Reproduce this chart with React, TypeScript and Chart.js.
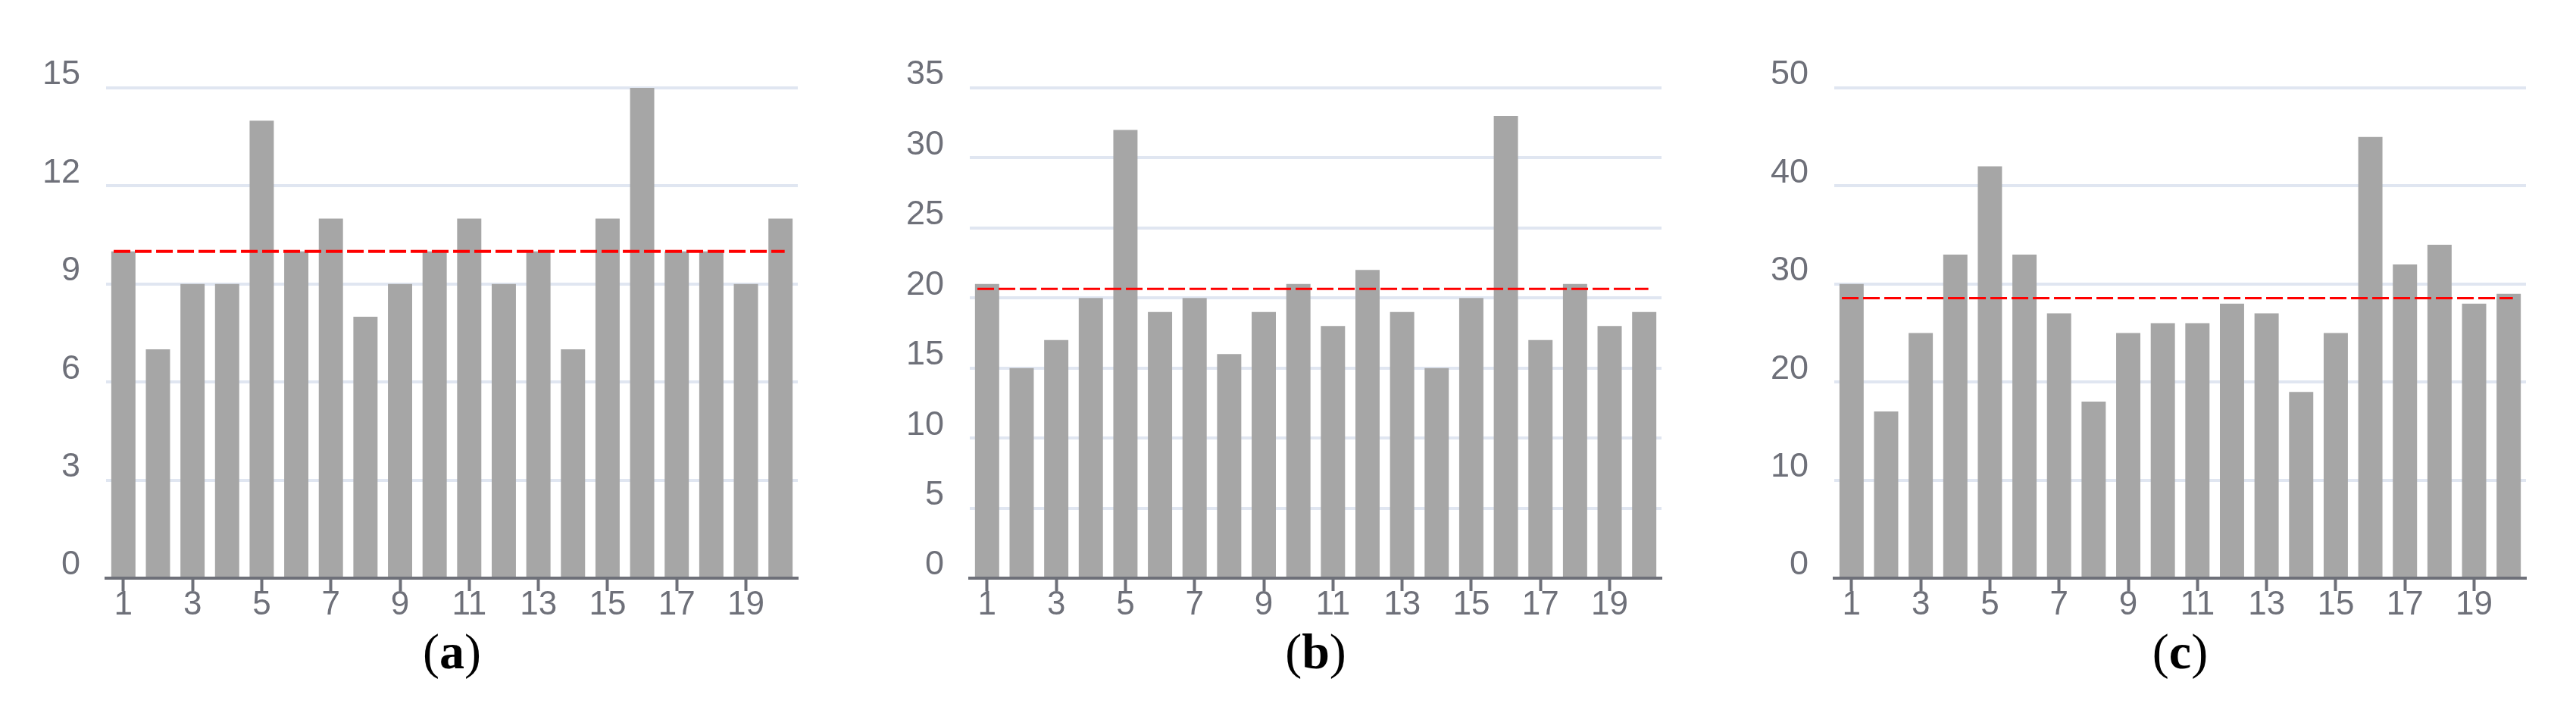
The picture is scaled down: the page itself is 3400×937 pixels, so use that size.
import React, { useEffect, useRef } from 'react';
import { Chart, registerables } from 'chart.js';

Chart.register(...registerables);

const categories = ['1', '2', '3', '4', '5', '6', '7', '8', '9', '10', '11', '12', '13', '14', '15', '16', '17', '18', '19', '20'];

const valuesA = [10, 7, 9, 9, 14, 10, 11, 8, 9, 10, 11, 9, 10, 7, 11, 15, 10, 10, 9, 11];
const valuesB = [21, 15, 17, 20, 32, 19, 20, 16, 19, 21, 18, 22, 19, 15, 20, 33, 17, 21, 18, 19];
const valuesC = [30, 17, 25, 33, 42, 33, 27, 18, 25, 26, 26, 28, 27, 19, 25, 45, 32, 34, 28, 29];

const averageA = 10;
const averageB = 20.65;
const averageC = 28.55;

const yMaxA = 15;
const yMaxB = 35;
const yMaxC = 50;
const yStepA = 3;
const yStepB = 5;
const yStepC = 10;

const captionA = 'a';
const captionB = 'b';
const captionC = 'c';

const AXIS_COLOR = '#6E7079';
const GRID_COLOR = '#E0E6F1';
const BAR_COLOR = '#A6A6A6';
const MEAN_COLOR = '#FF0000';

const CANVAS_W = 1100;
const CANVAS_H = 937;
const PLOT_LEFT = 140;
const PLOT_TOP = 116;
const PLOT_BOTTOM = 763;
const PLOT_W = 913;

const meanLinePlugin = {
  id: 'meanLine',
  afterDatasetsDraw(chart: any, _args: any, opts: any) {
    const { ctx } = chart;
    const xs = chart.scales.x;
    const ys = chart.scales.y;
    const py = ys.getPixelForValue(opts.value);
    const x1 = xs.getPixelForValue(opts.from);
    const x2 = xs.getPixelForValue(opts.to);
    ctx.save();
    ctx.strokeStyle = opts.color;
    ctx.lineWidth = opts.width;
    ctx.setLineDash(opts.dash);
    ctx.beginPath();
    ctx.moveTo(x1, py);
    ctx.lineTo(x2, py);
    ctx.stroke();
    ctx.restore();
  },
};

type PanelProps = {
  values: number[];
  average: number;
  averageWidth: number;
  yMax: number;
  yStep: number;
  left: number;
  caption: string;
};

function Panel({ values, average, averageWidth, yMax, yStep, left, caption }: PanelProps) {
  const ref = useRef<HTMLCanvasElement>(null);

  useEffect(() => {
    const chart = new Chart(ref.current as HTMLCanvasElement, {
      type: 'bar',
      data: {
        labels: categories,
        datasets: [
          {
            data: values,
            backgroundColor: BAR_COLOR,
            borderWidth: 0,
            barPercentage: 0.7,
            categoryPercentage: 1,
          },
        ],
      },
      plugins: [meanLinePlugin],
      options: {
        animation: false,
        responsive: false,
        devicePixelRatio: 1,
        events: [],
        layout: {
          padding: {
            left: 0,
            top: PLOT_TOP,
            right: CANVAS_W - PLOT_LEFT - PLOT_W,
            bottom: CANVAS_H - PLOT_BOTTOM - 100,
          },
        },
        plugins: {
          legend: { display: false },
          tooltip: { enabled: false },
          meanLine: {
            value: average,
            from: -0.28,
            to: 19.12,
            color: MEAN_COLOR,
            width: averageWidth,
            dash: [22, 6],
          },
        } as any,
        scales: {
          x: {
            afterFit: (s: any) => {
              s.height = 100;
            },
            grid: {
              display: true,
              drawOnChartArea: false,
              drawTicks: true,
              offset: false,
              tickLength: 17,
              tickWidth: 4,
              tickColor: (ctx: any) => (ctx.index % 2 === 0 ? AXIS_COLOR : 'rgba(0,0,0,0)'),
            },
            border: { display: true, color: AXIS_COLOR, width: 4, z: 1 },
            ticks: {
              autoSkip: false,
              maxRotation: 0,
              minRotation: 0,
              padding: -3,
              color: AXIS_COLOR,
              font: { family: '"Liberation Sans", Arial, sans-serif', size: 44, lineHeight: 1 },
              callback: (_v: any, i: number) => (i % 2 === 0 ? categories[i] : ''),
            },
          },
          y: {
            min: 0,
            max: yMax,
            afterFit: (s: any) => {
              s.width = PLOT_LEFT;
            },
            grid: {
              color: GRID_COLOR,
              lineWidth: 4,
              drawTicks: false,
            },
            border: { display: false },
            ticks: {
              stepSize: yStep,
              padding: 34,
              labelOffset: -17,
              color: AXIS_COLOR,
              font: { family: '"Liberation Sans", Arial, sans-serif', size: 45, lineHeight: 1 },
            },
          },
        },
      },
    });
    return () => chart.destroy();
  }, []);

  return (
    <div style={{ position: 'absolute', left, top: 0, width: CANVAS_W, height: CANVAS_H }}>
      <canvas ref={ref} width={CANVAS_W} height={CANVAS_H} style={{ width: CANVAS_W, height: CANVAS_H, display: 'block' }} />
      <div
        style={{
          position: 'absolute',
          left: PLOT_LEFT,
          width: PLOT_W,
          top: 822,
          textAlign: 'center',
          fontFamily: '"Liberation Serif", "Times New Roman", serif',
          fontSize: 66,
          lineHeight: '76px',
          color: '#000',
        }}
      >
        (<b>{caption}</b>)
      </div>
    </div>
  );
}

export default function App() {
  return (
    <div style={{ position: 'fixed', left: 0, top: 0, width: 3400, height: 937, background: '#fff', overflow: 'hidden' }}>
      <Panel values={valuesA} average={averageA} averageWidth={4} yMax={yMaxA} yStep={yStepA} left={0} caption={captionA} />
      <Panel values={valuesB} average={averageB} averageWidth={3} yMax={yMaxB} yStep={yStepB} left={1140} caption={captionB} />
      <Panel values={valuesC} average={averageC} averageWidth={3} yMax={yMaxC} yStep={yStepC} left={2281} caption={captionC} />
    </div>
  );
}
